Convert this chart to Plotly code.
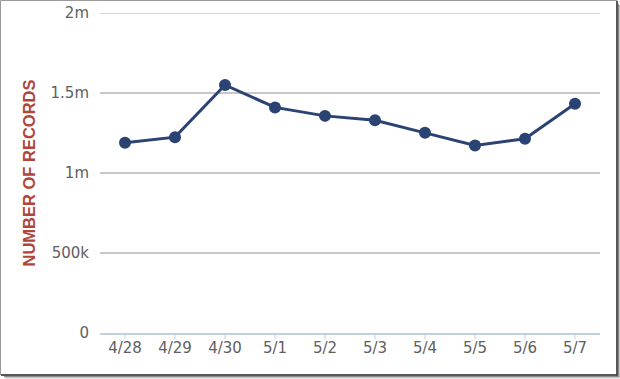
import plotly.graph_objects as go

categories = ["4/28", "4/29", "4/30", "5/1", "5/2", "5/3", "5/4", "5/5", "5/6", "5/7"]
records = [1189000, 1224000, 1550000, 1410000, 1357000, 1330000, 1251000, 1172000, 1214000, 1433000]
y_tickvals = [0, 500000, 1000000, 1500000, 2000000]
y_ticktext = ["0", "500k", "1m", "1.5m", "2m"]
y_title = "NUMBER OF RECORDS"

W, H = 620, 379
L, R, T, B = 100, 20, 13, 46
PW, PH = W - L - R, H - T - B
TICKLEN = 6


def px(x):
    return (x - L) / PW


def py(y):
    return (H - B - y) / PH


fig = go.Figure()
fig.add_trace(go.Scatter(
    x=list(range(len(categories))), y=records, mode="lines+markers",
    line=dict(color="#2b4373", width=3),
    marker=dict(color="#2b4373", size=12),
    showlegend=False, cliponaxis=False,
))

shapes = [
    # frame of the screenshot
    dict(type="rect", xref="paper", yref="paper", x0=px(0.5), x1=px(617), y0=py(375), y1=py(0.5),
         line=dict(color="#9a9a9a", width=1), fillcolor="rgba(0,0,0,0)", layer="below"),
    dict(type="line", xref="paper", yref="paper", x0=px(617), x1=px(617), y0=py(1), y1=py(375.5),
         line=dict(color="#303030", width=1.5)),
    dict(type="line", xref="paper", yref="paper", x0=px(1), x1=px(617.5), y0=py(375), y1=py(375),
         line=dict(color="#303030", width=1.5)),
    dict(type="line", xref="paper", yref="paper", x0=px(618.5), x1=px(618.5), y0=py(4), y1=py(377),
         line=dict(color="#8a8a8a", width=1)),
    dict(type="line", xref="paper", yref="paper", x0=px(4), x1=px(618.5), y0=py(376.5), y1=py(376.5),
         line=dict(color="#8a8a8a", width=1)),
    dict(type="line", xref="paper", yref="paper", x0=px(619.5), x1=px(619.5), y0=py(5), y1=py(378),
         line=dict(color="#c8c8c8", width=1)),
    dict(type="line", xref="paper", yref="paper", x0=px(5), x1=px(619.5), y0=py(377.8), y1=py(377.8),
         line=dict(color="#c8c8c8", width=1.5)),
    # top gridline (plotly omits gridlines at the range edge)
    dict(type="line", xref="paper", yref="y", x0=0, x1=1, y0=y_tickvals[-1], y1=y_tickvals[-1],
         line=dict(color="#c8c8c8", width=1.5), layer="below"),
]
# category tick marks below the x axis
for i in range(len(categories)):
    shapes.append(dict(type="line", xref="x", yref="paper", x0=i, x1=i, y0=0, y1=-TICKLEN / PH,
                       line=dict(color="#c0d0e0", width=1)))

fig.update_layout(
    width=W, height=H,
    margin=dict(l=L, r=R, t=T, b=B, pad=0, autoexpand=False),
    paper_bgcolor="white", plot_bgcolor="white",
    font=dict(family="DejaVu Sans", color="#606060"),
    shapes=shapes,
    annotations=[dict(
        text=y_title, xref="paper", yref="paper", x=px(28.5), y=0.5,
        xanchor="center", yanchor="middle", textangle=-90, showarrow=False,
        font=dict(family="Liberation Sans", size=16.5, color="#b0463a", weight="bold"),
    )],
)
fig.update_xaxes(
    range=[-0.5, len(categories) - 0.5],
    tickmode="array", tickvals=list(range(len(categories))), ticktext=categories,
    ticks="",
    showline=True, linecolor="#c0d0e0", linewidth=2,
    showgrid=False, zeroline=False, automargin=False,
    tickfont=dict(family="DejaVu Sans", size=15, color="#606060"),
    fixedrange=True,
)
fig.update_yaxes(
    range=[0, 2000000],
    tickmode="array", tickvals=y_tickvals, ticktext=y_ticktext,
    showgrid=True, gridcolor="#c8c8c8", gridwidth=1.5,
    zeroline=False, showline=False, ticks="", automargin=False,
    ticklabelstandoff=10,
    tickfont=dict(family="DejaVu Sans", size=15, color="#606060"),
    fixedrange=True,
)

fig.write_html(
    "out.html",
    config={"displayModeBar": False},
    post_script="document.body.style.margin='0';document.body.style.padding='0';document.body.style.overflow='hidden';",
)
